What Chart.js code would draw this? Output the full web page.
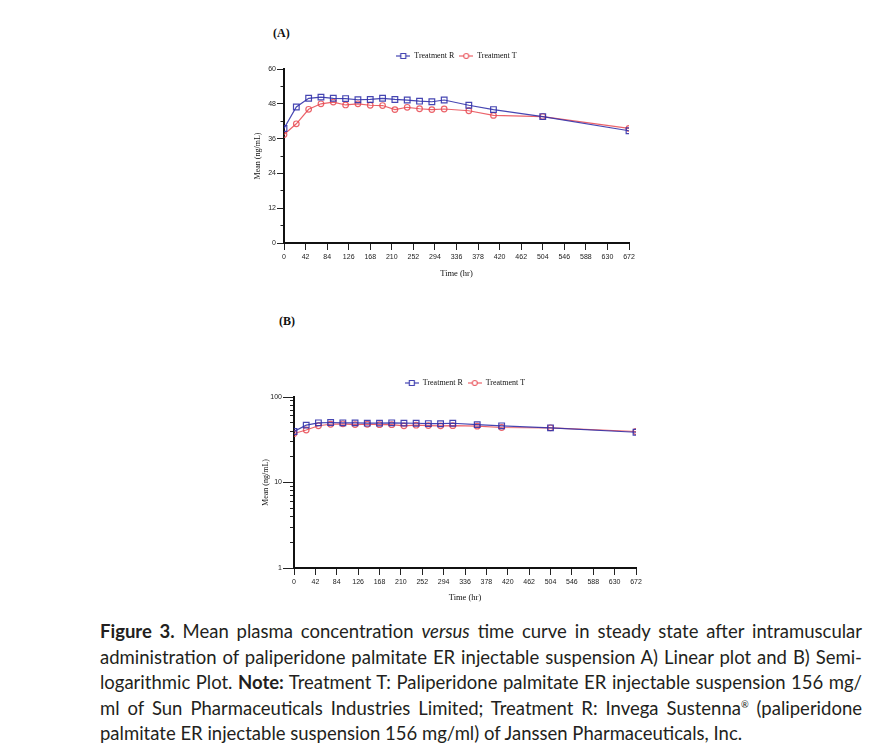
<!DOCTYPE html>
<html>
<head>
<meta charset="utf-8">
<script src="https://cdn.jsdelivr.net/npm/chart.js@4"></script>
<style>
  html, body { margin: 0; padding: 0; background: #fff; }
  body { width: 873px; height: 747px; position: relative; overflow: hidden; }
  .panel { position: absolute; font-family: "Liberation Serif", serif; font-weight: bold; font-size: 12px; color: #111; }
  .box { position: absolute; }
  #caption { position: absolute; left: 100px; top: 619px; width: 762px; font-family: Lato, "Open Sans", sans-serif; color: #231f20; font-size: 20px; line-height: 25.5px; }
  #caption div { white-space: nowrap; text-align: justify; text-align-last: justify; height: 25.5px; }
  #caption div.last { text-align-last: left; }
  #caption.measure div { text-align: left; text-align-last: left; }
  #caption sup { font-size: 0.5em; line-height: 0; vertical-align: 0.8em; }
</style>
</head>
<body>
<div class="panel" style="left:273px;top:26px;">(A)</div>
<div class="box" style="left:230px;top:40px;width:410px;height:250px;"><canvas id="chartA"></canvas></div>
<div class="panel" style="left:279px;top:314px;">(B)</div>
<div class="box" style="left:230px;top:365px;width:420px;height:250px;"><canvas id="chartB"></canvas></div>

<div id="caption">
  <div><span><b>Figure 3.</b> Mean plasma concentration <i>versus</i> time curve in steady state after intramuscular</span></div>
  <div><span>administration of paliperidone palmitate ER injectable suspension A) Linear plot and B) Semi-</span></div>
  <div><span>logarithmic Plot. <b>Note:</b> Treatment T: Paliperidone palmitate ER injectable suspension 156 mg/</span></div>
  <div><span>ml of Sun Pharmaceuticals Industries Limited; Treatment R: Invega Sustenna<sup>®</sup> (paliperidone</span></div>
  <div class="last"><span>palmitate ER injectable suspension 156 mg/ml) of Janssen Pharmaceuticals, Inc.</span></div>
</div>

<script>
// sampling times and mean concentrations (ng/mL)
const timeHr = [0, 24, 48, 72, 96, 120, 144, 168, 192, 216, 240, 264, 288, 312, 360, 408, 504, 672];
const meanR = [39.5, 46.9, 49.9, 50.3, 49.9, 49.8, 49.4, 49.5, 49.9, 49.5, 49.3, 48.9, 48.7, 49.3, 47.5, 46.0, 43.6, 38.7];
const meanT = [37.4, 41.1, 46.1, 48.0, 48.6, 47.6, 48.0, 47.5, 47.4, 46.0, 46.8, 46.3, 46.0, 46.2, 45.6, 44.0, 43.6, 39.5];
const seriesNames = ["Treatment R", "Treatment T"];

// axis ticks
const xTicks = [0, 42, 84, 126, 168, 210, 252, 294, 336, 378, 420, 462, 504, 546, 588, 630, 672];
const yLinTicks = [0, 6, 12, 18, 24, 30, 36, 42, 48, 54, 60];
const yLinLabels = [0, 12, 24, 36, 48, 60];
const yLogTicks = [1, 2, 3, 4, 5, 6, 7, 8, 9, 10, 20, 30, 40, 50, 60, 70, 80, 90, 100];
const yLogLabels = [1, 10, 100];

const colorR = "rgba(50,50,170,0.9)";
const colorT = "rgba(232,72,80,0.85)";
const tickFont = { family: "Liberation Sans", size: 7 };
const serif = "Liberation Serif";

function legendIcon(color, shape) {
  const c = document.createElement("canvas");
  c.width = 14; c.height = 8;
  const ctx = c.getContext("2d");
  ctx.strokeStyle = color;
  ctx.lineWidth = 1.2;
  ctx.beginPath(); ctx.moveTo(0, 4); ctx.lineTo(14, 4); ctx.stroke();
  ctx.fillStyle = "#fff";
  ctx.beginPath();
  if (shape === "rect") ctx.rect(4.5, 1.5, 5, 5);
  else ctx.arc(7, 4, 2.5, 0, Math.PI * 2);
  ctx.fill(); ctx.stroke();
  return c;
}
const icons = [legendIcon(colorR, "rect"), legendIcon(colorT, "circle")];

function legendGap(extra) {
  return {
    id: "legendGap",
    beforeInit(chart) {
      const fit = chart.legend.fit;
      chart.legend.fit = function () {
        fit.bind(chart.legend)();
        this.height += extra;
      };
    }
  };
}

function makeChart(id, opts) {
  const isLog = opts.log;
  const majors = isLog ? yLogLabels : yLinLabels;
  return new Chart(document.getElementById(id), {
    type: "line",
    data: {
      datasets: [
        {
          label: seriesNames[0],
          data: timeHr.map((t, i) => ({ x: t, y: meanR[i] })),
          borderColor: colorR, backgroundColor: "rgba(0,0,0,0)",
          borderWidth: 1.2, pointStyle: "rect", pointRadius: 4, pointBorderWidth: 1.2,
          pointBackgroundColor: "rgba(0,0,0,0)", pointBorderColor: colorR, tension: 0
        },
        {
          label: seriesNames[1],
          data: timeHr.map((t, i) => ({ x: t, y: meanT[i] })),
          borderColor: colorT, backgroundColor: "rgba(0,0,0,0)",
          borderWidth: 1.2, pointStyle: "circle", pointRadius: 2.8, pointBorderWidth: 1.2,
          pointBackgroundColor: "rgba(0,0,0,0)", pointBorderColor: colorT, tension: 0
        }
      ]
    },
    options: {
      responsive: true, maintainAspectRatio: false, animation: false,
      layout: { padding: opts.padding },
      plugins: {
        tooltip: { enabled: false },
        legend: {
          position: "top", fullSize: false,
          labels: {
            usePointStyle: true, pointStyleWidth: 14, padding: 5, color: "#111",
            font: { family: serif, size: 8 },
            generateLabels: (chart) => Chart.defaults.plugins.legend.labels.generateLabels(chart)
              .map((l, i) => Object.assign(l, { pointStyle: icons[i] }))
          }
        }
      },
      scales: {
        x: {
          type: "linear", min: 0, max: 672,
          afterBuildTicks: (s) => { s.ticks = xTicks.map((v) => ({ value: v })); },
          afterFit: (s) => { s.height = opts.xHeight; },
          border: { display: true, color: "#111", width: 2 },
          grid: { drawOnChartArea: false, drawTicks: true, tickLength: 7, tickColor: "#222", tickWidth: 1 },
          ticks: { font: tickFont, color: "#222", padding: 3, maxRotation: 0, autoSkip: false },
          title: { display: true, text: "Time (hr)", color: "#111", font: { family: serif, size: 8.5 }, padding: { top: 0, bottom: opts.xTitle } }
        },
        y: {
          type: isLog ? "logarithmic" : "linear", min: isLog ? 1 : 0, max: isLog ? 100 : 60,
          afterBuildTicks: (s) => { s.ticks = (isLog ? yLogTicks : yLinTicks).map((v) => ({ value: v })); },
          afterFit: (s) => { s.width = opts.yWidth; },
          border: { display: true, color: "#111", width: 2 },
          grid: {
            drawOnChartArea: false, drawTicks: true, tickLength: opts.yTick, tickColor: "#222", tickWidth: 1,
            tickBorderDash: (ctx) => (ctx.tick && majors.includes(ctx.tick.value) ? [] : [0, opts.yTick - opts.minorTick, opts.minorTick + 2, 40])
          },
          ticks: {
            font: tickFont, color: "#222", padding: 1, autoSkip: false,
            callback: (v) => (majors.includes(v) ? String(v) : "")
          },
          title: { display: true, text: "Mean (ng/mL)", color: "#111", font: { family: serif, size: 8 }, padding: { top: opts.yTitle, bottom: 0 } }
        }
      }
    },
    plugins: [legendGap(opts.legendGap)]
  });
}

makeChart("chartA", {
  log: false, padding: { top: 7, right: 11, bottom: 0, left: 0 },
  xHeight: 47, yWidth: 54, yTick: 7, minorTick: 3.5, xTitle: 11, yTitle: 23, legendGap: -1
});
makeChart("chartB", {
  log: true, padding: { top: 9, right: 14, bottom: 0, left: 0 },
  xHeight: 47, yWidth: 64, yTick: 11, minorTick: 4, xTitle: 12, yTitle: 31, legendGap: 0
});

// shrink caption font until the widest line fits
(function fitCaption() {
  const cap = document.getElementById("caption");
  const spans = cap.querySelectorAll("span");
  cap.classList.add("measure");
  let size = 20;
  const widest = () => Math.max(...Array.from(spans).map((s) => s.getBoundingClientRect().width));
  while (size > 14 && widest() > 760) { size -= 0.25; cap.style.fontSize = size + "px"; }
  cap.classList.remove("measure");
})();
</script>
</body>
</html>
